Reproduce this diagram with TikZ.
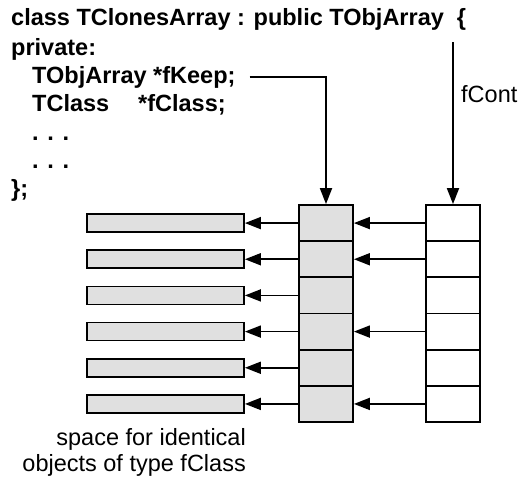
\documentclass[tikz,border=0pt]{standalone}
\usepackage{fontspec}
\setmainfont{Liberation Sans}
\usetikzlibrary{arrows.meta,positioning}
\definecolor{tcInk}{HTML}{000000}
\definecolor{tcCell}{HTML}{E0E0E0}
\tikzset{
  % Code lines (bold)
  code/.style={inner sep=0pt,anchor=base west,
    font=\fontsize{23.5}{28}\selectfont\bfseries,text=tcInk},
  % Plain labels
  lbl/.style={inner sep=0pt,
    font=\fontsize{23.5}{28}\selectfont,text=tcInk},
  % Array slot
  slot/.style={rectangle,draw=tcInk,line width=1.8pt,
    minimum width=54pt,minimum height=36.17pt,inner sep=0pt},
  % Object bar (grey)
  objbar/.style={rectangle,draw=tcInk,line width=1.8pt,fill=tcCell,
    minimum width=157pt,minimum height=18pt,inner sep=0pt},
  % Arrows
  arr/.style={-{Triangle[length=16pt,width=12pt]},line width=1.8pt,color=tcInk},
}
\begin{document}
\begin{tikzpicture}[x=1pt,y=-1pt]
  \useasboundingbox (0,0) rectangle (520,479);

  % class declaration
  \node[code] (head) at (11,26) {class TClonesArray : public TObjArray\ \ \{};
  \node[code] (priv) at (11,55) {private:};
  \node[code] (keep) at (32,83) {TObjArray *fKeep;};
  \node[code] (cls) at (32,111) {\makebox[106pt][l]{TClass}*fClass;};
  \node[code] (dots1) at (32,140) {. . .};
  \node[code] (dots2) at (32,168) {. . .};
  \node[code] (tail) at (11,196) {\};};

  % the two arrays and the objects
  \foreach \i in {1,...,6} {
    \node[slot,fill=tcCell] (mid\i) at (326,{205+36.17*(\i-0.5)}) {};
    \node[slot] (rgt\i) at (453,{205+36.17*(\i-0.5)}) {};
    \node[objbar] (bar\i) at (165.5,{205+36.17*(\i-0.5)}) {};
    \draw[arr] (mid\i.west) -- (bar\i.east);
  }
  \foreach \i in {1,2,4,6}
    \draw[arr] (rgt\i.west) -- (mid\i.east);

  \coordinate (contTop) at (453,42);
  \node[lbl,anchor=base west] (cont) at (461,102) {fCont};
  \draw[arr] (contTop) -- (rgt1.north);
  \draw[arr] ([xshift=14pt]keep.east) -| (mid1.north);

  \node[lbl,anchor=base east] (cap1) at (246,445) {space for identical};
  \node[lbl,anchor=base east] (cap2) at (246,471) {objects of type fClass};
\end{tikzpicture}
\end{document}
